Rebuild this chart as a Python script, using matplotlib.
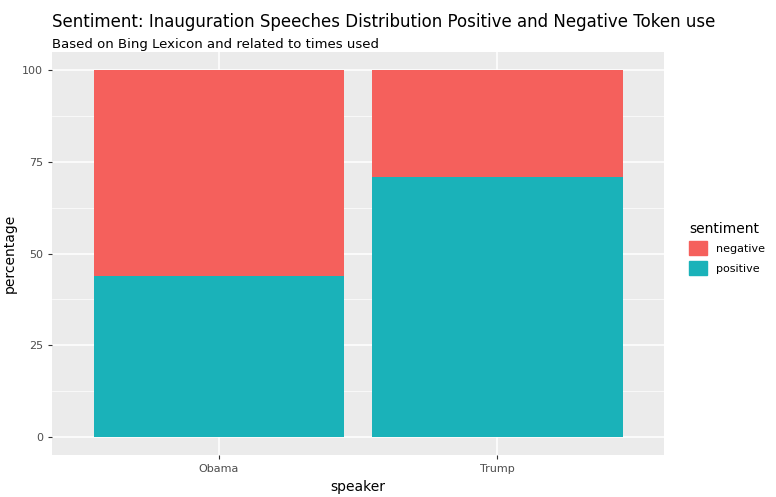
import matplotlib.pyplot as plt
from matplotlib.patches import Patch

speakers = ["Obama", "Trump"]
positive = [44.0, 70.8]
negative = [100 - p for p in positive]

red = "#F8766D"
teal = "#00BFC4"

fig = plt.figure(figsize=(7.76, 4.97), dpi=100)
ax = fig.add_axes([0.067, 0.0845, 0.789, 0.8105])
ax.set_facecolor("#EBEBEB")
x = range(1, len(speakers) + 1)
ax.bar(x, positive, width=0.9, color="#1AB2B9", zorder=3)
ax.bar(x, negative, bottom=positive, width=0.9, color="#F5605C", zorder=3)

ax.set_xlim(0.4, 2.6)
ax.set_ylim(-5, 105)
ax.set_yticks([0, 25, 50, 75, 100])
ax.set_yticks([12.5, 37.5, 62.5, 87.5], minor=True)
ax.set_xticks(list(x))
ax.set_xticklabels(speakers)
ax.grid(True, which="major", color="white", linewidth=1.1, zorder=0)
ax.grid(True, which="minor", axis="y", color="white", linewidth=0.5, zorder=0)
for s in ax.spines.values():
    s.set_visible(False)
ax.tick_params(which="both", length=3, color="#333333", labelsize=8, labelcolor="#4D4D4D")
ax.tick_params(which="minor", length=0)
ax.set_xlabel("speaker", fontsize=10)
ax.set_ylabel("percentage", fontsize=10)

fig.text(0.067, 0.955, "Sentiment: Inauguration Speeches Distribution Positive and Negative Token use",
         fontsize=12, va="center")
fig.text(0.067, 0.91, "Based on Bing Lexicon and related to times used", fontsize=9.5, va="center")

handles = [Patch(color="#F5605C", label="negative"), Patch(color="#1AB2B9", label="positive")]
leg = fig.legend(handles=handles, title="sentiment", loc="center left", bbox_to_anchor=(0.875, 0.5),
                 frameon=False, fontsize=8, title_fontsize=10, handlelength=1.6, handleheight=1.6)
leg._legend_box.align = "left"

fig.savefig("out.png", dpi=100)
